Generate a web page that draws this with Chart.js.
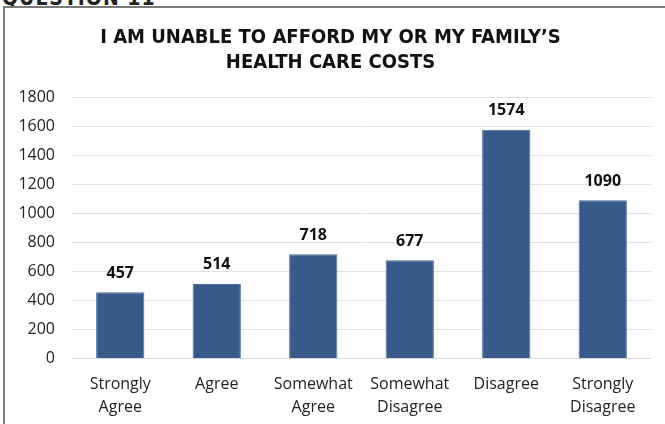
<!DOCTYPE html>
<html>
<head>
<meta charset="utf-8">
<script src="https://cdn.jsdelivr.net/npm/chart.js@4/dist/chart.umd.min.js"></script>
<style>
    html, body { margin: 0; padding: 0; background: #fff; overflow: hidden; }
    body { width: 665px; height: 424px; position: relative; }
    #question {
        position: absolute; left: 2px; top: -14px;
        font: bold 21px "DejaVu Sans Condensed", sans-serif;
        color: #222; letter-spacing: 1px;
    }
    #box {
        position: absolute; left: 3px; top: 6px; width: 662px; height: 418px;
        border-left: 2px solid #7a7a7a; border-top: 2px solid #7a7a7a;
        box-sizing: border-box;
    }
    #chart { position: absolute; left: 0; top: 0; }
</style>
</head>
<body>
<div id="question">QUESTION 11</div>
<div id="box"><canvas id="chart" width="660" height="429"></canvas></div>
<script>
// Chart data
const categories = [['Strongly', 'Agree'], 'Agree', ['Somewhat', 'Agree'], ['Somewhat', 'Disagree'], 'Disagree', ['Strongly', 'Disagree']];
const responses = [457, 514, 718, 677, 1574, 1090];
const yTicks = [0, 200, 400, 600, 800, 1000, 1200, 1400, 1600, 1800];
const titleLines = ['I AM UNABLE TO AFFORD MY OR MY FAMILY\u2019S', 'HEALTH CARE COSTS'];

// Draw value labels above bars
const valueLabels = {
    id: 'valueLabels',
    afterDatasetsDraw(chart) {
        const ctx = chart.ctx;
        const meta = chart.getDatasetMeta(0);
        ctx.save();
        ctx.font = 'bold 16px "Open Sans", "DejaVu Sans", sans-serif';
        ctx.fillStyle = '#111';
        ctx.textAlign = 'center';
        ctx.textBaseline = 'middle';
        meta.data.forEach((bar, i) => {
            ctx.fillText(responses[i], bar.x, bar.y - 19);
        });
        ctx.restore();
    }
};

const ctx = document.getElementById('chart').getContext('2d');
new Chart(ctx, {
    type: 'bar',
    data: {
        labels: categories,
        datasets: [{
            data: responses,
            backgroundColor: '#365a8a',
            borderColor: '#4a6d9c',
            borderWidth: 1,
            barPercentage: 0.5,
            categoryPercentage: 1.0
        }]
    },
    options: {
        responsive: false,
        animation: false,
        layout: { padding: { left: 5, right: 14, top: 11, bottom: 4 } },
        plugins: {
            legend: { display: false },
            tooltip: { enabled: false },
            title: {
                display: true,
                text: titleLines,
                color: '#111',
                font: { family: '"DejaVu Sans Condensed", sans-serif', size: 20, weight: 'bold', lineHeight: 1.25 },
                padding: { top: 6, bottom: 22 }
            }
        },
        scales: {
            x: {
                grid: { display: false, drawTicks: false },
                border: { color: '#d9d9d9', width: 1 },
                ticks: {
                    color: '#222',
                    font: { family: '"Open Sans", "DejaVu Sans", sans-serif', size: 16, lineHeight: 1.45 },
                    padding: 14,
                    maxRotation: 0,
                    autoSkip: false
                }
            },
            y: {
                min: 0,
                max: 1800,
                afterBuildTicks: axis => { axis.ticks = yTicks.map(v => ({ value: v })); },
                grid: { color: '#e0e0e0', drawTicks: false },
                border: { display: false },
                ticks: {
                    color: '#222',
                    font: { family: '"Open Sans", "DejaVu Sans", sans-serif', size: 16 },
                    padding: 17,
                    callback: value => String(value)
                },
                afterFit: axis => { axis.width = 62; }
            }
        }
    },
    plugins: [valueLabels]
});
</script>
</body>
</html>
